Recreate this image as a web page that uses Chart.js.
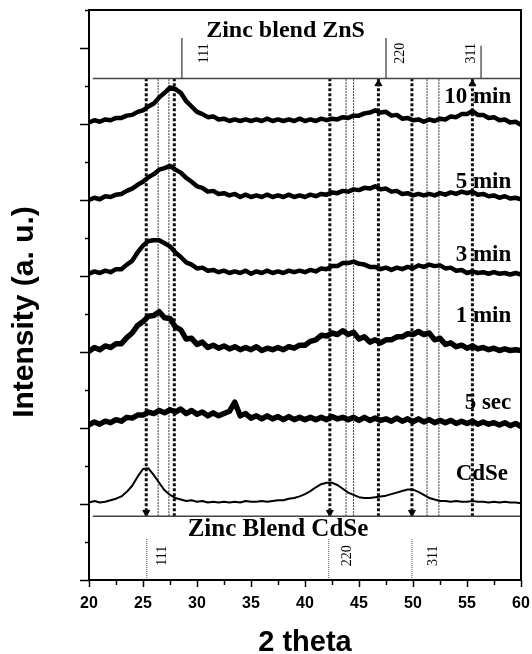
<!DOCTYPE html>
<html>
<head>
<meta charset="utf-8">
<script src="https://cdn.jsdelivr.net/npm/chart.js@4.4.0/dist/chart.umd.min.js"></script>
<style>
  html, body { margin: 0; padding: 0; background: #fff; }
</style>
</head>
<body>
<canvas id="xrdChart" width="532" height="654"></canvas>
<script>
// 2 theta grid (degrees)
const twoTheta = [
  20, 20.5, 21, 21.5, 22, 22.5, 23, 23.5, 24, 24.5,
  25, 25.5, 26, 26.5, 27, 27.5, 28, 28.5, 29, 29.5,
  30, 30.5, 31, 31.5, 32, 32.5, 33, 33.5, 34, 34.5,
  35, 35.5, 36, 36.5, 37, 37.5, 38, 38.5, 39, 39.5,
  40, 40.5, 41, 41.5, 42, 42.5, 43, 43.5, 44, 44.5,
  45, 45.5, 46, 46.5, 47, 47.5, 48, 48.5, 49, 49.5,
  50, 50.5, 51, 51.5, 52, 52.5, 53, 53.5, 54, 54.5,
  55, 55.5, 56, 56.5, 57, 57.5, 58, 58.5, 59, 59.5,
  60
];

// intensities, offset by one unit per sample
const cdse = [
  1.02, 1.04, 1.02, 1.03, 1.05, 1.07, 1.10, 1.16, 1.24, 1.36,
  1.46, 1.47, 1.38, 1.28, 1.18, 1.12, 1.08, 1.06, 1.04, 1.05,
  1.03, 1.04, 1.02, 1.03, 1.02, 1.03, 1.02, 1.03, 1.02, 1.04,
  1.03, 1.03, 1.04, 1.03, 1.04, 1.05, 1.05, 1.07, 1.08, 1.10,
  1.13, 1.17, 1.22, 1.26, 1.28, 1.28, 1.25, 1.20, 1.15, 1.12,
  1.09, 1.08, 1.08, 1.09, 1.10, 1.11, 1.13, 1.15, 1.17, 1.19,
  1.19, 1.16, 1.12, 1.08, 1.06, 1.04, 1.04, 1.03, 1.04, 1.03,
  1.03, 1.04, 1.03, 1.03, 1.02, 1.03, 1.02, 1.03, 1.02, 1.02,
  1.01
];
const sec5 = [
  2.04, 2.08, 2.05, 2.09, 2.07, 2.11, 2.09, 2.14, 2.13, 2.17,
  2.17, 2.21, 2.19, 2.23, 2.20, 2.24, 2.21, 2.25, 2.19, 2.23,
  2.18, 2.21, 2.16, 2.20, 2.16, 2.19, 2.22, 2.34, 2.16, 2.19,
  2.13, 2.16, 2.12, 2.16, 2.12, 2.15, 2.11, 2.15, 2.11, 2.14,
  2.11, 2.14, 2.11, 2.14, 2.11, 2.15, 2.12, 2.14, 2.11, 2.14,
  2.10, 2.14, 2.10, 2.13, 2.10, 2.12, 2.09, 2.13, 2.09, 2.12,
  2.08, 2.12, 2.08, 2.11, 2.07, 2.10, 2.07, 2.10, 2.06, 2.09,
  2.06, 2.09, 2.05, 2.08, 2.05, 2.07, 2.04, 2.07, 2.03, 2.06,
  2.02
];
const min1 = [
  3.01, 3.06, 3.03, 3.08, 3.06, 3.11, 3.11, 3.19, 3.25, 3.35,
  3.40, 3.47, 3.48, 3.53, 3.45, 3.44, 3.33, 3.29, 3.17, 3.18,
  3.10, 3.13, 3.06, 3.09, 3.05, 3.08, 3.04, 3.07, 3.03, 3.06,
  3.03, 3.07, 3.02, 3.05, 3.03, 3.06, 3.03, 3.07, 3.05, 3.09,
  3.09, 3.14, 3.16, 3.22, 3.21, 3.25, 3.23, 3.28, 3.23, 3.26,
  3.17, 3.20, 3.13, 3.16, 3.12, 3.16, 3.16, 3.20, 3.20, 3.24,
  3.23, 3.27, 3.23, 3.25, 3.16, 3.18, 3.10, 3.12, 3.07, 3.09,
  3.05, 3.08, 3.04, 3.06, 3.03, 3.05, 3.02, 3.04, 3.02, 3.03,
  3.02
];
const min3 = [
  4.03, 4.06, 4.04, 4.07, 4.05, 4.09, 4.09, 4.15, 4.20, 4.31,
  4.40, 4.46, 4.47, 4.47, 4.43, 4.39, 4.31, 4.25, 4.18, 4.15,
  4.10, 4.11, 4.07, 4.08, 4.05, 4.07, 4.04, 4.06, 4.04, 4.07,
  4.03, 4.06, 4.04, 4.07, 4.04, 4.06, 4.04, 4.07, 4.05, 4.07,
  4.05, 4.08, 4.06, 4.10, 4.09, 4.13, 4.13, 4.17, 4.17, 4.19,
  4.16, 4.15, 4.12, 4.12, 4.09, 4.11, 4.08, 4.11, 4.09, 4.12,
  4.10, 4.14, 4.12, 4.15, 4.13, 4.14, 4.10, 4.11, 4.07, 4.08,
  4.04, 4.06, 4.04, 4.05, 4.03, 4.05, 4.03, 4.04, 4.02, 4.04,
  4.02
];
const min5 = [
  5.00, 5.03, 5.01, 5.05, 5.04, 5.07, 5.08, 5.12, 5.15, 5.20,
  5.24, 5.30, 5.34, 5.40, 5.42, 5.45, 5.40, 5.36, 5.29, 5.24,
  5.18, 5.16, 5.11, 5.12, 5.08, 5.09, 5.06, 5.08, 5.04, 5.07,
  5.04, 5.06, 5.04, 5.07, 5.04, 5.06, 5.04, 5.07, 5.04, 5.06,
  5.04, 5.07, 5.05, 5.08, 5.07, 5.10, 5.09, 5.12, 5.11, 5.14,
  5.13, 5.16, 5.15, 5.18, 5.14, 5.15, 5.11, 5.12, 5.08, 5.09,
  5.06, 5.08, 5.06, 5.08, 5.06, 5.09, 5.07, 5.10, 5.08, 5.11,
  5.09, 5.11, 5.07, 5.08, 5.05, 5.06, 5.03, 5.05, 5.02, 5.03,
  5.01
];
const min10 = [
  6.02, 6.05, 6.03, 6.06, 6.05, 6.08, 6.08, 6.11, 6.12, 6.16,
  6.18, 6.23, 6.27, 6.35, 6.41, 6.48, 6.46, 6.41, 6.30, 6.23,
  6.16, 6.13, 6.09, 6.10, 6.06, 6.07, 6.04, 6.06, 6.04, 6.06,
  6.04, 6.06, 6.04, 6.07, 6.04, 6.06, 6.04, 6.06, 6.04, 6.07,
  6.04, 6.06, 6.04, 6.07, 6.05, 6.07, 6.06, 6.09, 6.08, 6.11,
  6.11, 6.14, 6.15, 6.18, 6.15, 6.16, 6.11, 6.12, 6.07, 6.08,
  6.05, 6.06, 6.03, 6.06, 6.04, 6.07, 6.06, 6.10, 6.09, 6.13,
  6.13, 6.17, 6.12, 6.12, 6.08, 6.09, 6.05, 6.06, 6.02, 6.03,
  5.99
];
const traceLabels = ['CdSe', '5 sec', '1 min', '3 min', '5 min', '10 min'];

// reference patterns
const hkl = ['111', '220', '311'];
const znsPeaks = [28.6, 47.5, 56.3];
const znsStickTop = [7.13, 7.13, 7.03];
const cdsePeaks = [25.35, 42.2, 49.9];
const cdseStickTop = 0.54;
const znsBase = 6.6;
const cdseBase = 0.84;

// guide lines between the two patterns
const thickGuides = [25.3, 27.9, 42.3, 46.8, 49.9, 55.5];
const guideArrows = ['down', '', 'down', 'up', 'down', 'up'];
const thinGuides = [26.4, 27.4, 43.8, 44.5, 51.3, 52.4];

const traces = [cdse, sec5, min1, min3, min5, min10];
const traceWidth = [2, 5.5, 5.5, 4.5, 4.5, 4.5]; // noisy traces read as thick bands

const datasets = [];
traces.forEach((vals, i) => {
  datasets.push({
    label: traceLabels[i],
    data: vals.map((v, j) => ({ x: twoTheta[j], y: v })),
    borderColor: '#000',
    borderWidth: traceWidth[i],
    borderJoinStyle: 'round',
    borderCapStyle: 'round',
    pointRadius: 0,
  });
});

// horizontal base lines of the reference boxes
[znsBase, cdseBase].forEach(b => {
  datasets.push({
    data: [{ x: 20.35, y: b }, { x: 60, y: b }],
    borderColor: '#444',
    borderWidth: 1.5,
    pointRadius: 0,
  });
});

// reference sticks
znsPeaks.forEach((p, i) => {
  datasets.push({
    data: [{ x: p, y: znsBase }, { x: p, y: znsStickTop[i] }],
    borderColor: '#444',
    borderWidth: 1.3,
    pointRadius: 0,
  });
});
cdsePeaks.forEach(p => {
  datasets.push({
    data: [{ x: p, y: 0 }, { x: p, y: cdseStickTop }],
    borderColor: '#444',
    borderWidth: 1,
    borderDash: [1, 1],
    pointRadius: 0,
  });
});

thinGuides.forEach(g => {
  datasets.push({
    data: [{ x: g, y: cdseBase }, { x: g, y: znsBase }],
    borderColor: '#333',
    borderWidth: 1,
    borderDash: [2, 1],
    pointRadius: 0,
  });
});
thickGuides.forEach(g => {
  datasets.push({
    data: [{ x: g, y: cdseBase }, { x: g, y: znsBase }],
    borderColor: '#111',
    borderWidth: 3,
    borderDash: [3, 2],
    pointRadius: 0,
  });
});

// arrow heads
const arrowIdx = guideArrows.map((a, i) => (a ? i : -1)).filter(i => i >= 0);
datasets.push({
  data: arrowIdx.map(i => ({
    x: thickGuides[i],
    y: guideArrows[i] === 'up' ? znsBase - 0.07 : cdseBase + 0.05,
  })),
  showLine: false,
  pointStyle: 'triangle',
  pointRadius: 4,
  pointRotation: arrowIdx.map(i => (guideArrows[i] === 'up' ? 0 : 180)),
  pointBackgroundColor: '#000',
  pointBorderColor: '#000',
  pointBorderWidth: 1,
});

const serif = '"Liberation Serif", "Times New Roman", serif';
const sans = '"Liberation Sans", Arial, sans-serif';

const decor = {
  id: 'decor',
  afterDraw(chart) {
    const { ctx, chartArea: a, scales } = chart;
    const xs = scales.x, ys = scales.y;
    ctx.save();

    // frame
    ctx.strokeStyle = '#000';
    ctx.lineWidth = 2;
    ctx.strokeRect(a.left, a.top, a.right - a.left, a.bottom - a.top);

    // outward tick marks, long for majors
    ctx.lineWidth = 1.5;
    ys.ticks.forEach(t => {
      const py = Math.round(ys.getPixelForValue(t.value)) + 0.5;
      const len = Number.isInteger(t.value) ? 9 : 4;
      ctx.beginPath();
      ctx.moveTo(a.left - len, py);
      ctx.lineTo(a.left, py);
      ctx.stroke();
    });
    xs.ticks.forEach(t => {
      const px = Math.round(xs.getPixelForValue(t.value)) + 0.5;
      const len = t.value % 5 === 0 ? 7 : 5;
      ctx.beginPath();
      ctx.moveTo(px, a.bottom);
      ctx.lineTo(px, a.bottom + len);
      ctx.stroke();
    });

    // axis titles
    ctx.fillStyle = '#000';
    ctx.font = 'bold 30px ' + sans;
    ctx.textAlign = 'center';
    ctx.textBaseline = 'alphabetic';
    ctx.save();
    ctx.translate(33, 312);
    ctx.rotate(-Math.PI / 2);
    ctx.fillText('Intensity (a. u.)', 0, 0);
    ctx.restore();
    ctx.font = 'bold 29px ' + sans;
    ctx.fillText('2 theta', (a.left + a.right) / 2, 651);

    // sample labels
    ctx.font = 'bold 23px ' + serif;
    ctx.textAlign = 'right';
    ctx.textBaseline = 'middle';
    const labelY = [1.39, 2.33, 3.47, 4.28, 5.24, 6.36];
    const labelRight = [58.8, 59.1, 59.1, 59.1, 59.1, 59.1];
    traceLabels.forEach((lab, i) => {
      ctx.fillText(lab, xs.getPixelForValue(labelRight[i]), ys.getPixelForValue(labelY[i]));
    });

    // reference titles
    ctx.textAlign = 'center';
    ctx.font = 'bold 24px ' + serif;
    ctx.fillText('Zinc blend ZnS', xs.getPixelForValue(38.2), ys.getPixelForValue(7.22));
    ctx.font = 'bold 25px ' + serif;
    ctx.fillText('Zinc Blend CdSe', xs.getPixelForValue(37.5), ys.getPixelForValue(0.66));

    // hkl labels, rotated
    ctx.font = '14px ' + serif;
    const znsLabX = [30.65, 48.8, 55.4];
    const cdseLabX = [26.76, 43.9, 51.85];
    const drawRot = (txt, px, py) => {
      ctx.save();
      ctx.translate(px, py);
      ctx.rotate(-Math.PI / 2);
      ctx.fillText(txt, 0, 0);
      ctx.restore();
    };
    hkl.forEach((h, i) => {
      drawRot(h, xs.getPixelForValue(znsLabX[i]), ys.getPixelForValue(6.93));
      drawRot(h, xs.getPixelForValue(cdseLabX[i]), ys.getPixelForValue(0.32));
    });

    ctx.restore();
  }
};

new Chart(document.getElementById('xrdChart'), {
  type: 'line',
  data: { datasets },
  options: {
    responsive: false,
    animation: false,
    layout: { padding: { top: 10, right: 11, left: 0, bottom: 0 } },
    plugins: { legend: { display: false }, tooltip: { enabled: false } },
    elements: { line: { tension: 0 } },
    scales: {
      x: {
        type: 'linear',
        min: 20,
        max: 60,
        grid: { display: false, drawTicks: false },
        border: { display: false },
        ticks: {
          stepSize: 2.5,
          padding: 14,
          color: '#000',
          font: { family: sans, size: 16, weight: 'bold' },
          callback: v => (v % 5 === 0 ? v : ''),
          maxRotation: 0,
          autoSkip: false,
        },
        afterFit: s => { s.height = 74; s.paddingLeft = 0; s.paddingRight = 0; },
      },
      y: {
        min: 0,
        max: 7.5,
        grid: { display: false, drawTicks: false },
        border: { display: false },
        ticks: { stepSize: 0.5, callback: () => '' },
        afterFit: s => { s.width = 89; s.paddingTop = 0; s.paddingBottom = 0; },
      },
    },
  },
  plugins: [decor],
});
</script>
</body>
</html>
